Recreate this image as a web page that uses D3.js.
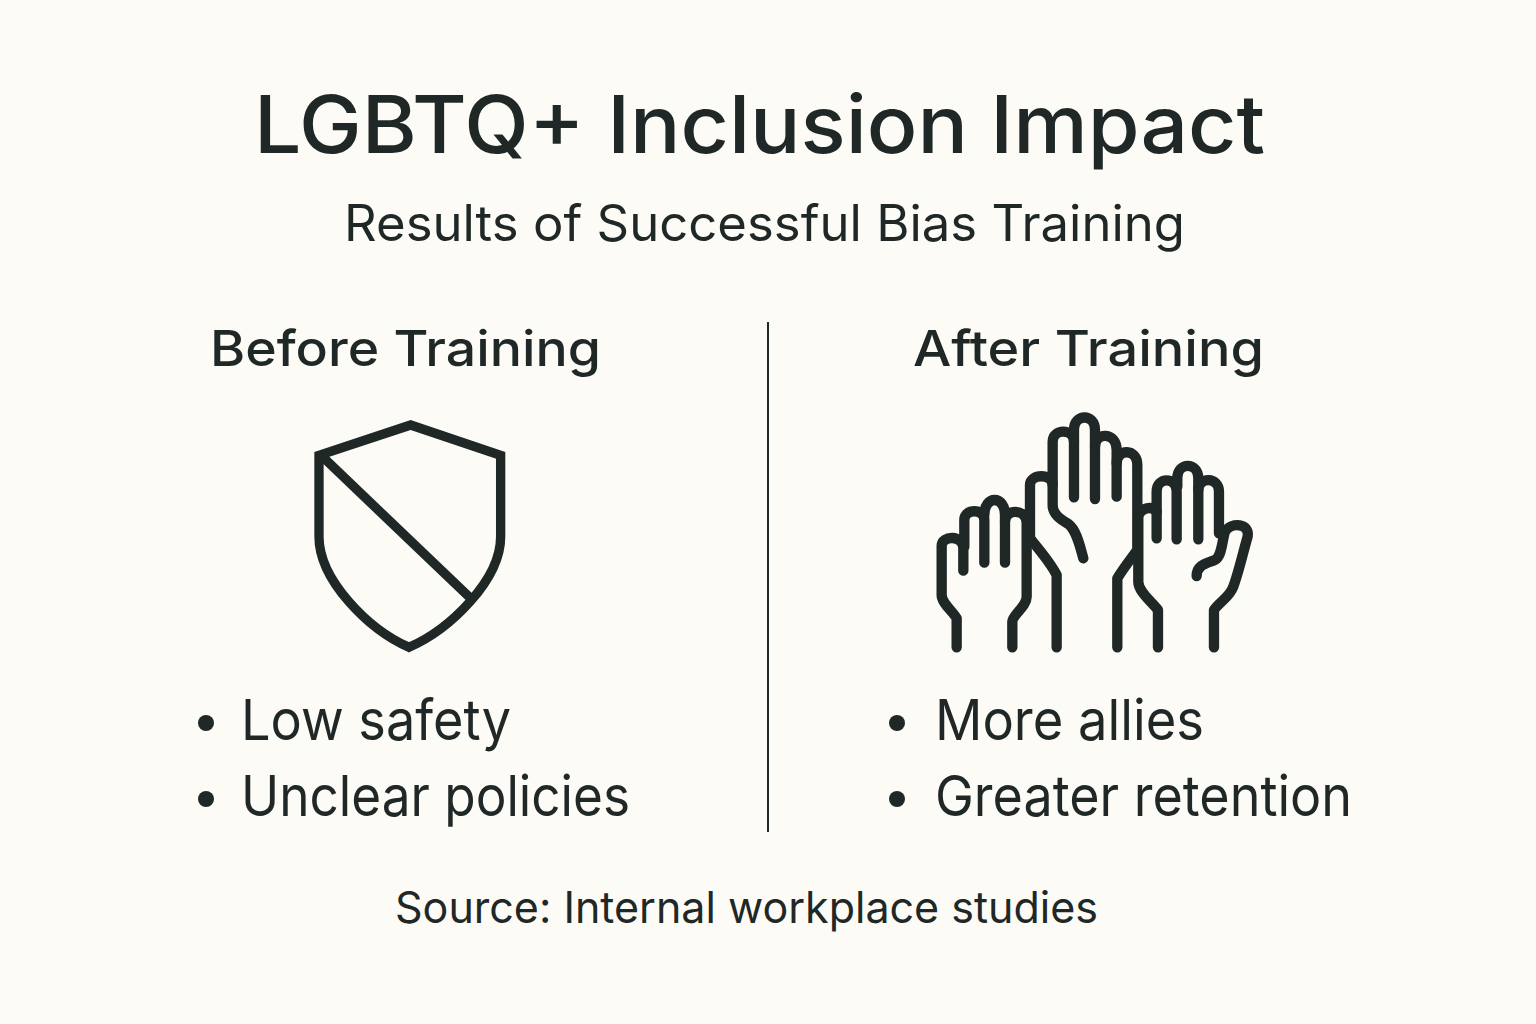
<!DOCTYPE html>
<html>
<head>
<meta charset="utf-8">
<script src="https://cdn.jsdelivr.net/npm/d3@7"></script>
<style>
  html, body { margin: 0; padding: 0; background: #fdfbf6; }
  svg { display: block; }
  text { font-family: "Inter", "Open Sans", sans-serif; fill: #1f2827; }
</style>
</head>
<body>
<svg id="chart" width="1536" height="1024"></svg>
<script>
const titleText = 'LGBTQ+ Inclusion Impact';
const subtitleText = 'Results of Successful Bias Training';
const sourceText = 'Source: Internal workplace studies';
const columnTitles = ['Before Training', 'After Training'];
const beforeItems = ['Low safety', 'Unclear policies'];
const afterItems = ['More allies', 'Greater retention'];

const ink = '#1f2827';
const svg = d3.select('#chart');

function label(x, y, size, weight, txt, width) {
  const t = svg.append('text')
    .attr('x', x).attr('y', y)
    .attr('font-size', size).attr('font-weight', weight)
    .text(txt);
  if (width) t.attr('textLength', width).attr('lengthAdjust', 'spacingAndGlyphs');
  return t;
}

label(254, 153, 80, 540, titleText, 1011);
label(344, 241, 50, 400, subtitleText, 841);
label(210, 366, 50, 540, columnTitles[0], 391);
label(913, 366, 50, 540, columnTitles[1], 351);

// Divider
svg.append('line')
  .attr('x1', 768).attr('x2', 768).attr('y1', 322).attr('y2', 832)
  .attr('stroke', ink).attr('stroke-width', 2);

// Bullet lists
const rowY = d3.scalePoint().domain([0, 1]).range([740, 816]);
const listWidths = [[270, 389], [269, 417]];
[[beforeItems, 206, 241], [afterItems, 897, 935]].forEach(([items, bx, tx], c) => {
  items.forEach((d, i) => {
    svg.append('circle').attr('cx', bx).attr('cy', rowY(i) - 17).attr('r', 8).attr('fill', ink);
    label(tx, rowY(i), 56, 400, d, listWidths[c][i]);
  });
});

label(395, 923, 44, 400, sourceText, 703);

// Shield icon, traced at 3x
const shield = svg.append('g')
  .attr('transform', 'translate(290,400) scale(0.3333)')
  .attr('fill', 'none').attr('stroke', ink).attr('stroke-width', 28)
  .attr('stroke-linejoin', 'miter');
shield.append('path').attr('d', 'M362,75 L632,166 L632,410 C632,540 480,688 357,742 C235,688 87,540 87,410 L87,166 Z');
shield.append('path').attr('d', 'M95,168 L543,596');

// Raised hands icon, traced at 3x
const hands = svg.append('g')
  .attr('transform', 'translate(920,400) scale(0.3333)')
  .attr('fill', 'none').attr('stroke', ink).attr('stroke-width', 31)
  .attr('stroke-linecap', 'round').attr('stroke-linejoin', 'round');
const handPaths = [
  // left hand
  'M110,742 L110,655 C100,635 65,610 65,585 L65,438 C65,405 130,405 130,445 L130,512',
  'M133,440 L133,360 C133,325 193,325 193,360 L193,488',
  'M193,345 C193,285 255,285 255,345 L255,488',
  'M255,365 C255,325 320,325 320,370 L320,590 C320,620 277,645 277,665 L277,742',
  // middle hand
  'M410,742 L410,525 C390,485 350,440 330,415 L330,255 C330,220 398,220 398,255 L398,315 C398,345 425,360 445,372 C470,390 480,440 490,475',
  'M398,255 L398,125 C398,85 462,85 462,125 L462,292',
  'M462,125 L462,90 C462,40 525,40 525,90 L525,297',
  'M525,140 C525,95 590,95 590,150 L590,290',
  'M590,190 C590,145 652,145 652,195 L652,450 C630,480 610,505 592,535 L592,742',
  // right hand
  'M714,742 L714,630 C695,605 655,575 655,545 L655,350 C660,325 695,315 710,335',
  'M710,415 L710,275 C710,230 770,230 770,275 L770,418',
  'M772,260 L772,235 C772,185 835,185 835,235 L835,418',
  'M835,270 C835,230 897,230 897,275 L897,400',
  'M882,742 L882,630 C900,605 930,590 940,560 C955,520 970,455 983,410 C990,370 935,365 915,395 C905,430 905,470 885,480 C860,490 830,495 830,528'
];
hands.selectAll('path').data(handPaths).join('path').attr('d', d => d);
</script>
</body>
</html>
